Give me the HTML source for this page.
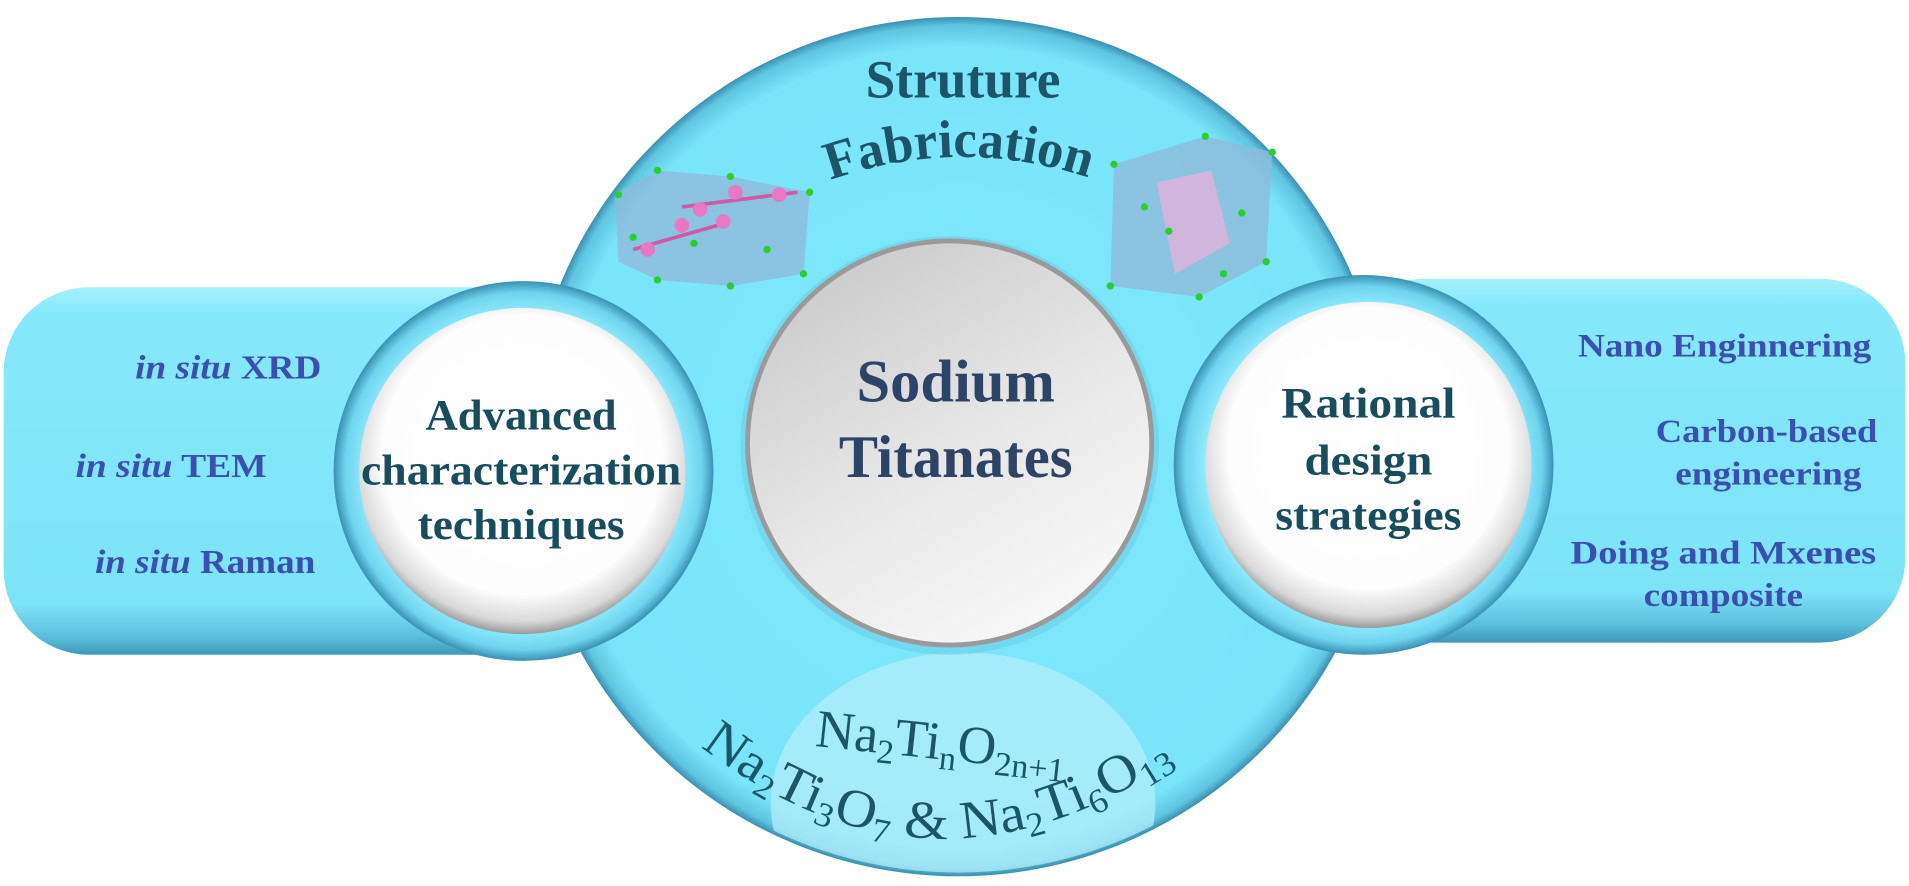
<!DOCTYPE html>
<html><head><meta charset="utf-8"><style>
html,body{margin:0;padding:0;background:#fff;width:1909px;height:886px;overflow:hidden;}
svg{display:block;}
text{font-family:"Liberation Serif",serif;font-weight:bold;}
</style></head><body>
<svg width="1909" height="886" viewBox="0 0 1568 728" preserveAspectRatio="none" xmlns="http://www.w3.org/2000/svg">
<defs>
<linearGradient id="bar" x1="0" y1="0" x2="0" y2="1">
<stop offset="0" stop-color="#a6f0fc"/><stop offset="0.07" stop-color="#86e9fb"/><stop offset="0.86" stop-color="#7de3f7"/><stop offset="0.95" stop-color="#5cc0dc"/><stop offset="1" stop-color="#3f98b8"/></linearGradient>
<radialGradient id="big" cx="0.5" cy="0.5" r="0.5">
<stop offset="0" stop-color="#7fe8fc"/><stop offset="0.93" stop-color="#7ae4f9"/><stop offset="0.98" stop-color="#5fc5e0"/><stop offset="1" stop-color="#3a8fb0"/></radialGradient>
<radialGradient id="white" cx="0.5" cy="0.45" r="0.55">
<stop offset="0" stop-color="#ffffff"/><stop offset="0.78" stop-color="#fdfdfd"/><stop offset="0.93" stop-color="#d9d9d9"/><stop offset="1" stop-color="#9a9a9a"/></radialGradient>
<linearGradient id="grey" x1="0.2" y1="0" x2="0.8" y2="1">
<stop offset="0" stop-color="#c9c9c9"/><stop offset="0.5" stop-color="#e6e6e6"/><stop offset="1" stop-color="#fafafa"/></linearGradient>
<radialGradient id="ring" cx="0.5" cy="0.5" r="0.5">
<stop offset="0.84" stop-color="#8deafc"/><stop offset="0.94" stop-color="#6fd4ee"/><stop offset="1" stop-color="#3a90b2"/></radialGradient>
<clipPath id="bc"><circle cx="787" cy="367" r="350"/></clipPath>
<path id="fab" d="M 682 148 Q 790 110 900 148"/>
<path id="low" d="M 566 606 Q 772 772 990 606"/>
</defs>
<circle cx="787" cy="367" r="353" fill="url(#big)"/>
<ellipse cx="791" cy="660" rx="158" ry="124" fill="#b2eef9" opacity="0.75" clip-path="url(#bc)"/>
<rect x="3" y="236" width="470" height="302" rx="70" fill="url(#bar)"/>
<rect x="1100" y="229" width="465" height="299" rx="70" fill="url(#bar)"/>
<g opacity="0.8">
<polygon points="505,160 540,140 600,145 665,158 660,225 600,235 540,230 508,215" fill="#8fbcdc"/>
<polygon points="915,135 990,112 1045,125 1040,215 985,244 912,235" fill="#8fbcdc"/>
<polygon points="950,150 995,140 1010,200 965,225" fill="#e6aad6"/>
</g>
<g stroke="#d05aa8" stroke-width="3"><line x1="520" y1="205" x2="590" y2="185"/><line x1="560" y1="170" x2="655" y2="158"/></g>
<g fill="#e878c4"><circle cx="532" cy="205" r="6"/><circle cx="560" cy="185" r="6"/><circle cx="575" cy="172" r="6"/><circle cx="594" cy="182" r="6"/><circle cx="604" cy="158" r="6"/><circle cx="640" cy="160" r="6"/></g>
<g fill="#28d028"><circle cx="508" cy="160" r="3"/><circle cx="540" cy="140" r="3"/><circle cx="600" cy="145" r="3"/><circle cx="665" cy="158" r="3"/><circle cx="660" cy="225" r="3"/><circle cx="600" cy="235" r="3"/><circle cx="540" cy="230" r="3"/><circle cx="520" cy="195" r="3"/><circle cx="570" cy="200" r="3"/><circle cx="630" cy="205" r="3"/><circle cx="915" cy="135" r="3"/><circle cx="990" cy="112" r="3"/><circle cx="1045" cy="125" r="3"/><circle cx="1040" cy="215" r="3"/><circle cx="985" cy="244" r="3"/><circle cx="912" cy="235" r="3"/><circle cx="960" cy="190" r="3"/><circle cx="1020" cy="175" r="3"/><circle cx="940" cy="170" r="3"/><circle cx="1005" cy="225" r="3"/></g>
<circle cx="430" cy="387" r="156" fill="url(#ring)"/>
<circle cx="429" cy="387" r="134" fill="url(#white)"/>
<circle cx="1120" cy="382" r="156" fill="url(#ring)"/>
<circle cx="1124" cy="382" r="134" fill="url(#white)"/>
<circle cx="780" cy="366" r="172" fill="#6ccfe8" opacity="0.6"/>
<circle cx="780" cy="364" r="168" fill="#9a9a9a"/>
<circle cx="780" cy="364" r="164" fill="url(#grey)"/>
<g fill="#1d5568">
<text x="791" y="80" font-size="44" text-anchor="middle" textLength="160" lengthAdjust="spacingAndGlyphs">Struture</text>
<text font-size="44"><textPath href="#fab" textLength="216" lengthAdjust="spacingAndGlyphs">Fabrication</textPath></text>
</g>
<g fill="#2d4466" font-size="50" text-anchor="middle">
<text x="785" y="330" textLength="163" lengthAdjust="spacingAndGlyphs">Sodium</text>
<text x="785" y="392" textLength="192" lengthAdjust="spacingAndGlyphs">Titanates</text>
</g>
<g fill="#174d5c" font-size="36" text-anchor="middle">
<text x="428" y="353" textLength="157" lengthAdjust="spacingAndGlyphs">Advanced</text>
<text x="428" y="398" textLength="263" lengthAdjust="spacingAndGlyphs">characterization</text>
<text x="428" y="443" textLength="170" lengthAdjust="spacingAndGlyphs">techniques</text>
<text x="1124" y="343" textLength="143" lengthAdjust="spacingAndGlyphs">Rational</text>
<text x="1124" y="390" textLength="105" lengthAdjust="spacingAndGlyphs">design</text>
<text x="1124" y="435" textLength="153" lengthAdjust="spacingAndGlyphs">strategies</text>
</g>
<g fill="#3a4fb0" font-size="28">
<text x="111" y="311" textLength="153" lengthAdjust="spacingAndGlyphs"><tspan font-style="italic">in situ</tspan> XRD</text>
<text x="62" y="392" textLength="157" lengthAdjust="spacingAndGlyphs"><tspan font-style="italic">in situ</tspan> TEM</text>
<text x="78" y="471" textLength="181" lengthAdjust="spacingAndGlyphs"><tspan font-style="italic">in situ</tspan> Raman</text>
</g>
<g fill="#3a4fb0" font-size="27">
<text x="1296" y="293" textLength="241" lengthAdjust="spacingAndGlyphs">Nano Enginnering</text>
<text x="1360" y="363" textLength="182" lengthAdjust="spacingAndGlyphs">Carbon-based</text>
<text x="1376" y="398" textLength="153" lengthAdjust="spacingAndGlyphs">engineering</text>
<text x="1290" y="463" textLength="251" lengthAdjust="spacingAndGlyphs">Doing and Mxenes</text>
<text x="1350" y="498" textLength="131" lengthAdjust="spacingAndGlyphs">composite</text>
</g>
<g fill="#1d5568" font-size="44" style="font-weight:normal">
<text x="669" y="613" transform="rotate(6 669 613)" style="font-weight:normal">Na<tspan font-size="28" dy="8">2</tspan><tspan dy="-8">Ti</tspan><tspan font-size="28" dy="8">n</tspan><tspan dy="-8">O</tspan><tspan font-size="28" dy="8">2n+1</tspan></text>
<text style="font-weight:normal"><textPath href="#low" startOffset="12" textLength="420" lengthAdjust="spacingAndGlyphs">Na<tspan font-size="28" dy="8">2</tspan><tspan dy="-8">Ti</tspan><tspan font-size="28" dy="8">3</tspan><tspan dy="-8">O</tspan><tspan font-size="28" dy="8">7</tspan><tspan dy="-8"> &amp; Na</tspan><tspan font-size="28" dy="8">2</tspan><tspan dy="-8">Ti</tspan><tspan font-size="28" dy="8">6</tspan><tspan dy="-8">O</tspan><tspan font-size="28" dy="8">13</tspan></textPath></text>
</g>
</svg>
</body></html>
